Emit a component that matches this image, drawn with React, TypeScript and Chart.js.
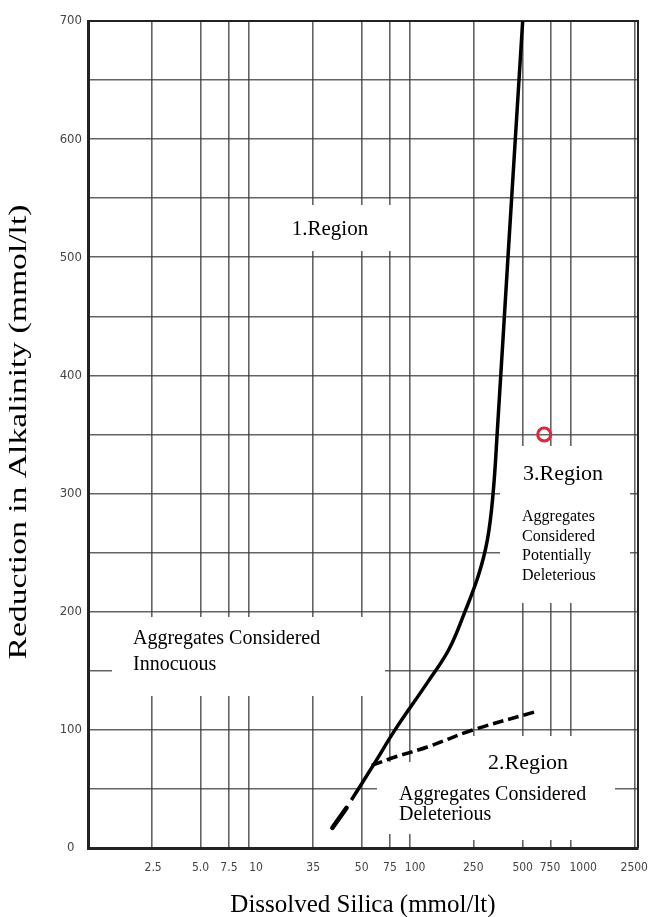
import React, { useEffect, useRef } from "react";
import { Chart, registerables } from "chart.js";

Chart.register(...registerables);

// ---- Axis ticks (labels as printed on the original figure) ----
const X_TICK_VALUES = [2.5, 5, 7.5, 10, 25, 50, 75, 100, 250, 500, 750, 1000, 2500];
const X_TICK_LABELS = ["2.5", "5.0", "7.5", "10", "35", "50", "75", "100", "250", "500", "750", "1000", "2500"];
const X_MIN = 1;
const X_MAX = 2600;
const Y_MIN = 0;
const Y_MAX = 700;
const Y_STEP = 50;
const Y_LABEL_STEP = 100;

// ---- Boundary curve (solid), short lower piece ----
const SILICA_LOW = [32.9, 40.3];
const ALK_LOW = [17, 34];

// ---- Boundary curve (solid), main piece ----
const SILICA_MAIN = [43.2, 60.3, 80.6, 128, 174, 217.5, 266, 302, 327, 348, 406, 500];
const ALK_MAIN = [40.6, 72, 100, 140, 168, 199, 231, 261, 299, 353, 502, 700];

// ---- Dashed branch ----
const SILICA_DASH = [57.8, 80.6, 128, 246, 588];
const ALK_DASH = [70, 77, 85.5, 100, 115];

// ---- Test point (red ring) ----
const SILICA_MARK = [680];
const ALK_MARK = [350];

// ---- Texts ----
const X_TITLE = "Dissolved Silica (mmol/lt)";
const Y_TITLE = "Reduction in Alkalinity (mmol/lt)";
const REGION1 = "1.Region";
const REGION2 = "2.Region";
const REGION3 = "3.Region";
const INNOCUOUS_LINES = ["Aggregates Considered", "Innocuous"];
const DELETERIOUS_LINES = ["Aggregates Considered", "Deleterious"];
const POTENTIAL_LINES = ["Aggregates", "Considered", "Potentially", "Deleterious"];

const SERIF = "'Liberation Serif', 'Times New Roman', serif";
const NARROW = "'Liberation Sans Narrow', 'DejaVu Sans Condensed', sans-serif";

const pts = (xs: number[], ys: number[]) => xs.map((x, i) => ({ x, y: ys[i] }));

// ---- layout only: horizontal nudge of some x tick labels (as printed), px ----
const X_LABEL_NUDGE = [1, 0, 0, 7, 0, 0, 0, 5, -1, 0, -1, 12, -1];

// white label boxes that interrupt the grid (pixel layout)
const BOXES = [
  { x: 254, y: 205, w: 151, h: 46 },
  { x: 112, y: 617, w: 273, h: 79 },
  { x: 500, y: 446, w: 130, h: 157 },
  { x: 440, y: 736, w: 175, h: 104 },
  { x: 377, y: 762, w: 238, h: 72 },
];

const overlayPlugin = {
  id: "overlay",
  beforeDraw(chart: any) {
    const sx = chart.scales.x;
    if (!sx) return;
    const items = sx.getLabelItems();
    items.forEach((it: any, i: number) => {
      if (it.__nudged) return;
      it.options.translation[0] += X_LABEL_NUDGE[i] || 0;
      it.__nudged = true;
    });
  },
  beforeDatasetsDraw(chart: any) {
    const ctx = chart.ctx as CanvasRenderingContext2D;
    const { left, right, top, bottom } = chart.chartArea;
    ctx.save();
    ctx.fillStyle = "#ffffff";
    for (const b of BOXES) ctx.fillRect(b.x, b.y, b.w, b.h);
    ctx.strokeStyle = "#222";
    ctx.lineWidth = 2;
    ctx.beginPath();
    ctx.moveTo(left, top);
    ctx.lineTo(right, top);
    ctx.lineTo(right, bottom);
    ctx.stroke();
    ctx.restore();
  },
  afterDraw(chart: any) {
    const ctx = chart.ctx as CanvasRenderingContext2D;
    const { left, right } = chart.chartArea;
    ctx.save();
    ctx.fillStyle = "#000";
    ctx.textBaseline = "middle";

    // region labels
    ctx.font = `21px ${SERIF}`;
    ctx.textAlign = "center";
    ctx.fillText(REGION1, 330, 229);

    ctx.textAlign = "left";
    ctx.font = `20px ${SERIF}`;
    INNOCUOUS_LINES.forEach((t, i) => ctx.fillText(t, 133, 639 + i * 26));

    ctx.font = `22px ${SERIF}`;
    ctx.fillText(REGION2, 488, 763);
    ctx.font = `20px ${SERIF}`;
    DELETERIOUS_LINES.forEach((t, i) => ctx.fillText(t, 399, 795 + i * 20));

    ctx.font = `22px ${SERIF}`;
    ctx.fillText(REGION3, 523, 474);
    ctx.font = `16px ${SERIF}`;
    POTENTIAL_LINES.forEach((t, i) => ctx.fillText(t, 522, 517 + i * 19.5));

    // axis titles
    ctx.textAlign = "center";
    ctx.font = `25px ${SERIF}`;
    ctx.fillText(X_TITLE, (left + right) / 2, 905);

    ctx.font = `26px ${SERIF}`;
    const w = ctx.measureText(Y_TITLE).width;
    ctx.translate(19, 432);
    ctx.rotate(-Math.PI / 2);
    ctx.scale(455 / w, 1);
    ctx.fillText(Y_TITLE, 0, 0);
    ctx.restore();
  },
};

export default function App() {
  const ref = useRef<HTMLCanvasElement | null>(null);

  useEffect(() => {
    if (!ref.current) return;
    const gridColor = "rgba(60,60,60,0.8)";
    const chart = new Chart(ref.current, {
      type: "scatter",
      data: {
        datasets: [
          {
            data: pts(SILICA_LOW, ALK_LOW),
            showLine: true,
            borderColor: "#000",
            borderWidth: 4.5,
            pointRadius: 0,
            borderCapStyle: "round",
          },
          {
            data: pts(SILICA_MAIN, ALK_MAIN),
            showLine: true,
            borderColor: "#000",
            borderWidth: 3.5,
            pointRadius: 0,
            tension: 0.4,
          },
          {
            data: pts(SILICA_DASH, ALK_DASH),
            showLine: true,
            borderColor: "#000",
            borderWidth: 3.5,
            borderDash: [11, 5],
            pointRadius: 0,
            tension: 0.35,
          },
          {
            data: pts(SILICA_MARK, ALK_MARK),
            showLine: false,
            pointRadius: 6.5,
            pointStyle: "circle",
            borderColor: "#e0263c",
            backgroundColor: "rgba(255,255,255,0)",
            borderWidth: 3,
          },
        ],
      } as any,
      options: {
        animation: false,
        responsive: false,
        layout: { padding: { top: 21, right: 13, left: 0, bottom: 0 } },
        plugins: { legend: { display: false }, tooltip: { enabled: false } },
        scales: {
          x: {
            type: "logarithmic",
            min: X_MIN,
            max: X_MAX,
            afterBuildTicks: (s: any) => {
              s.ticks = X_TICK_VALUES.map((v) => ({ value: v }));
            },
            afterFit: (s: any) => {
              s.height = 69;
              s.paddingLeft = 0;
              s.paddingRight = 0;
            },
            ticks: {
              autoSkip: false,
              maxRotation: 0,
              minRotation: 0,
              padding: 13,
              color: "#444",
              font: { family: NARROW, size: 12 },
              callback: (v: any) => {
                const i = X_TICK_VALUES.indexOf(Number(v));
                return i >= 0 ? X_TICK_LABELS[i] : "";
              },
            },
            grid: { color: gridColor, lineWidth: 1.6, drawTicks: false },
            border: { display: true, color: "#222", width: 3 },
          },
          y: {
            type: "linear",
            min: Y_MIN,
            max: Y_MAX,
            afterFit: (s: any) => {
              s.width = 88;
            },
            ticks: {
              stepSize: Y_STEP,
              crossAlign: "center",
              padding: 6,
              color: "#444",
              font: { family: NARROW, size: 13 },
              callback: (v: any) => (Number(v) % Y_LABEL_STEP === 0 ? String(v) : ""),
            },
            grid: { color: gridColor, lineWidth: 1.6, drawTicks: false },
            border: { display: true, color: "#222", width: 3 },
          },
        },
      } as any,
      plugins: [overlayPlugin],
    });
    return () => chart.destroy();
  }, []);

  return (
    <div style={{ position: "absolute", left: 0, top: 0, width: 651, height: 917, background: "#fff" }}>
      <canvas ref={ref} width={651} height={917} style={{ display: "block" }} />
    </div>
  );
}
